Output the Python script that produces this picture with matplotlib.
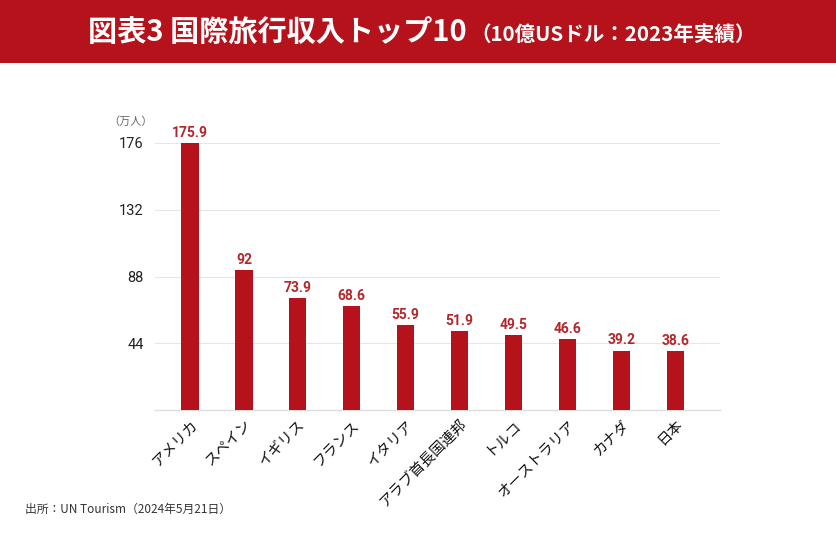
import matplotlib.pyplot as plt
from matplotlib.patches import Rectangle

plt.rcParams['font.family'] = ['Noto Sans CJK JP', 'DejaVu Sans']

countries = ["アメリカ", "スペイン", "イギリス", "フランス", "イタリア",
             "アラブ首長国連邦", "トルコ", "オーストラリア", "カナダ", "日本"]
values = [175.9, 92, 73.9, 68.6, 55.9, 51.9, 49.5, 46.6, 39.2, 38.6]
value_labels = ["175.9", "92", "73.9", "68.6", "55.9", "51.9", "49.5", "46.6", "39.2", "38.6"]
y_ticks = [44, 88, 132, 176]

RED = "#b5121b"
NUM_FONT = ["Roboto", "DejaVu Sans"]

fig = plt.figure(figsize=(8.36, 5.36), dpi=100)

# title band
fig.patches.append(Rectangle((0, 1 - 63 / 536), 1, 63 / 536, transform=fig.transFigure,
                             facecolor=RED, edgecolor="none", zorder=0))
fig.text(467 / 836, 1 - 33 / 536, "図表3 国際旅行収入トップ10", color="white",
         fontsize=21, fontweight="bold", ha="right", va="center")
fig.text(470 / 836, 1 - 34 / 536, "（10億USドル：2023年実績）", color="white",
         fontsize=14.8, fontweight="bold", ha="left", va="center")

ax = fig.add_axes([155 / 836, 1 - 410 / 536, (720 - 155) / 836, (410 - 143) / 536])
x = list(range(len(countries)))
ax.bar(x, values, width=0.32, color=RED, zorder=3)

for xi, v, lab in zip(x, values, value_labels):
    ax.text(xi, v + 2, lab, ha="center", va="bottom", color="#b5262b",
            fontsize=10, fontweight="bold", family=NUM_FONT, clip_on=False)

ax.set_xlim(-0.65, 9.83)
ax.set_ylim(0, 176)
ax.set_yticks(y_ticks)
ax.set_yticklabels([str(t) for t in y_ticks], fontsize=10.5, color="#222222",
                   family=NUM_FONT)
ax.set_xticks(x)
ax.set_xticklabels(countries, rotation=45, ha="right", rotation_mode="anchor",
                   fontsize=10.5, color="#111111")
ax.tick_params(axis="y", length=0, pad=8)
ax.tick_params(axis="x", length=0, pad=5)

ax.grid(axis="y", color="#e6e6e6", linewidth=0.8, zorder=0)
for s in ["top", "right", "left"]:
    ax.spines[s].set_visible(False)
ax.spines["bottom"].set_color("#dddddd")
ax.spines["bottom"].set_linewidth(1)

fig.text(131 / 836, 1 - 122 / 536, "（万人）", fontsize=8, color="#666666",
         ha="center", va="center")
fig.text(25 / 836, 1 - 509 / 536, "出所：UN Tourism（2024年5月21日）", fontsize=8.5,
         color="#333333", ha="left", va="center")

fig.savefig("out.png", dpi=100)
